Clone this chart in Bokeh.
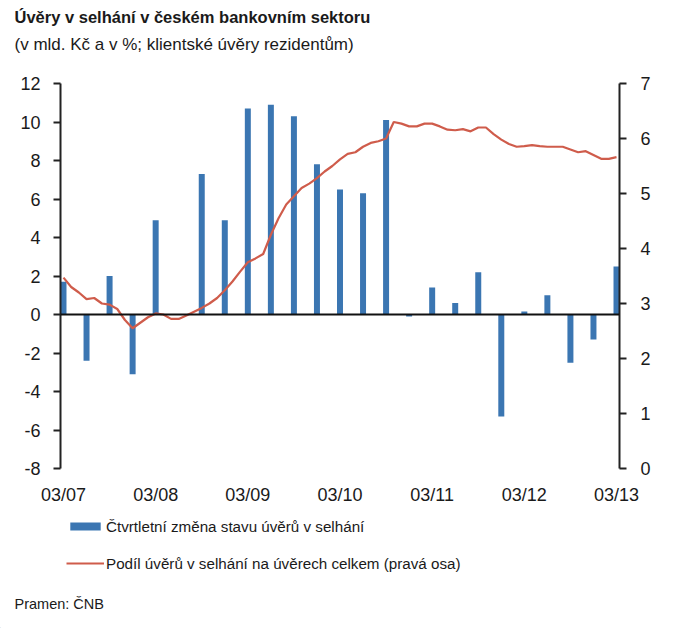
from bokeh.plotting import figure
from bokeh.models import (Range1d, LinearAxis, FixedTicker, Span, Legend, LegendItem,
                          Label)
from bokeh.layouts import column
from bokeh.embed import file_html
from bokeh.resources import INLINE

# ---- data ----
quarter_labels = ["03/07", "06/07", "09/07", "12/07", "03/08", "06/08", "09/08", "12/08",
                  "03/09", "06/09", "09/09", "12/09", "03/10", "06/10", "09/10", "12/10",
                  "03/11", "06/11", "09/11", "12/11", "03/12", "06/12", "09/12", "12/12", "03/13"]
npl_change = [1.7, -2.4, 2.0, -3.1, 4.9, 0.0, 7.3, 4.9,
              10.7, 10.9, 10.3, 7.8, 6.5, 6.3, 10.1, -0.1,
              1.4, 0.6, 2.2, -5.3, 0.15, 1.0, -2.5, -1.3, 2.5]
# monthly share of NPL in total loans (%), 03/07 .. 03/13
npl_share = [3.47, 3.30, 3.20, 3.08, 3.10, 3.00, 2.98, 2.90, 2.70, 2.55, 2.65, 2.75,
             2.82, 2.80, 2.72, 2.72, 2.78, 2.85, 2.92, 3.00, 3.10, 3.24, 3.40, 3.58,
             3.75, 3.82, 3.90, 4.25, 4.55, 4.80, 4.95, 5.10, 5.18, 5.28, 5.40, 5.50,
             5.62, 5.72, 5.75, 5.85, 5.92, 5.95, 6.00, 6.30, 6.27, 6.22, 6.22, 6.27,
             6.27, 6.22, 6.16, 6.15, 6.17, 6.13, 6.20, 6.20, 6.08, 5.98, 5.90, 5.85,
             5.86, 5.88, 5.86, 5.85, 5.85, 5.85, 5.80, 5.75, 5.77, 5.70, 5.63, 5.63, 5.66]
x_tick_labels = ["03/07", "03/08", "03/09", "03/10", "03/11", "03/12", "03/13"]
left_ticks = [-8, -6, -4, -2, 0, 2, 4, 6, 8, 10, 12]
right_ticks = [0, 1, 2, 3, 4, 5, 6, 7]

title = "Úvěry v selhání v českém bankovním sektoru"
subtitle = "(v mld. Kč a v %; klientské úvěry rezidentům)"
legend_bar = "Čtvrtletní změna stavu úvěrů v selhání"
legend_line = "Podíl úvěrů v selhání na úvěrech celkem (pravá osa)"
source = "Pramen: ČNB"

FONT = "Liberation Sans"
BAR_COLOR = "#3b76b2"
LINE_COLOR = "#cf5c4b"
TEXT = "#1a1a1a"

qx = list(range(len(npl_change)))
mx = [i / 3 for i in range(len(npl_share))]


def blank(height):
    f = figure(width=688, height=height, output_backend="svg", toolbar_location=None,
               x_range=Range1d(0, 688), y_range=Range1d(0, height),
               x_axis_type=None, y_axis_type=None,
               min_border_left=0, min_border_right=0, min_border_top=0, min_border_bottom=0)
    f.outline_line_color = None
    f.xgrid.visible = False
    f.ygrid.visible = False
    f.frame_align = False
    return f

# ---------------- header ----------------
h = blank(71)
h.add_layout(Label(x=14, y=55, text=title, text_font=FONT, text_font_size="16.5px",
                   text_font_style="bold", text_color=TEXT, text_baseline="middle"))
h.add_layout(Label(x=14, y=27, text=subtitle, text_font=FONT, text_font_size="17px",
                   text_color=TEXT, text_baseline="middle"))

# ---------------- main chart ----------------
p = figure(width=688, height=439, output_backend="svg", toolbar_location=None,
           x_range=Range1d(-0.13, 24.13), y_range=Range1d(-8, 12),
           min_border_left=60, min_border_right=69, min_border_top=12, min_border_bottom=42)
p.frame_align = False
p.extra_y_ranges = {"right": Range1d(0, 7)}
p.outline_line_color = None
p.xgrid.visible = False
p.ygrid.visible = False

bars = p.vbar(x=qx, top=npl_change, bottom=0, width=0.26, fill_color=BAR_COLOR, line_color=None)
p.add_layout(Span(location=0, dimension="width", line_color="#111111", line_width=2))
line = p.line(x=mx, y=npl_share, y_range_name="right", line_color=LINE_COLOR, line_width=2.2)

xa = p.xaxis[0]
xa.ticker = FixedTicker(ticks=[0, 4, 8, 12, 16, 20, 24])
xa.major_label_overrides = {t: lab for t, lab in zip([0, 4, 8, 12, 16, 20, 24], x_tick_labels)}
xa.axis_line_color = None
xa.major_tick_line_color = None
xa.minor_tick_line_color = None
xa.major_label_standoff = 10
xa.major_label_text_font = FONT
xa.major_label_text_font_size = "18px"
xa.major_label_text_color = TEXT

def style_y(ax, standoff):
    ax.axis_line_color = "#222222"
    ax.axis_line_width = 2
    ax.major_tick_line_color = "#222222"
    ax.major_tick_line_width = 2
    ax.major_tick_in = 0
    ax.major_tick_out = 7
    ax.minor_tick_line_color = None
    ax.major_label_standoff = standoff
    ax.major_label_text_font = FONT
    ax.major_label_text_font_size = "18px"
    ax.major_label_text_color = TEXT

ya = p.yaxis[0]
ya.ticker = FixedTicker(ticks=left_ticks)
ya.major_label_overrides = {t: str(t) for t in left_ticks}
style_y(ya, 13)

ra = LinearAxis(y_range_name="right", ticker=FixedTicker(ticks=right_ticks))
style_y(ra, 14)
p.add_layout(ra, "right")

# ---------------- legend & source strip ----------------
q = blank(118)
lb = q.vbar(x=[-1000], top=[1], width=1, fill_color=BAR_COLOR, line_color=None)
ll = q.line(x=[-1000, -999], y=[1, 1], line_color=LINE_COLOR, line_width=2.2)
legend = Legend(items=[LegendItem(label=legend_bar, renderers=[lb]),
                       LegendItem(label=legend_line, renderers=[ll])],
                location=(66, 55), orientation="vertical",
                padding=0, margin=0, spacing=17, glyph_width=38, glyph_height=10,
                label_height=20, label_standoff=2,
                label_text_font=FONT, label_text_font_size="15.2px", label_text_color=TEXT,
                border_line_color=None, background_fill_alpha=0)
q.add_layout(legend, "center")
q.add_layout(Label(x=14, y=25, text=source, text_font=FONT, text_font_size="14.5px",
                   text_color=TEXT, text_baseline="middle"))

open("out.html", "w").write(file_html(column(h, p, q, spacing=0), INLINE))
